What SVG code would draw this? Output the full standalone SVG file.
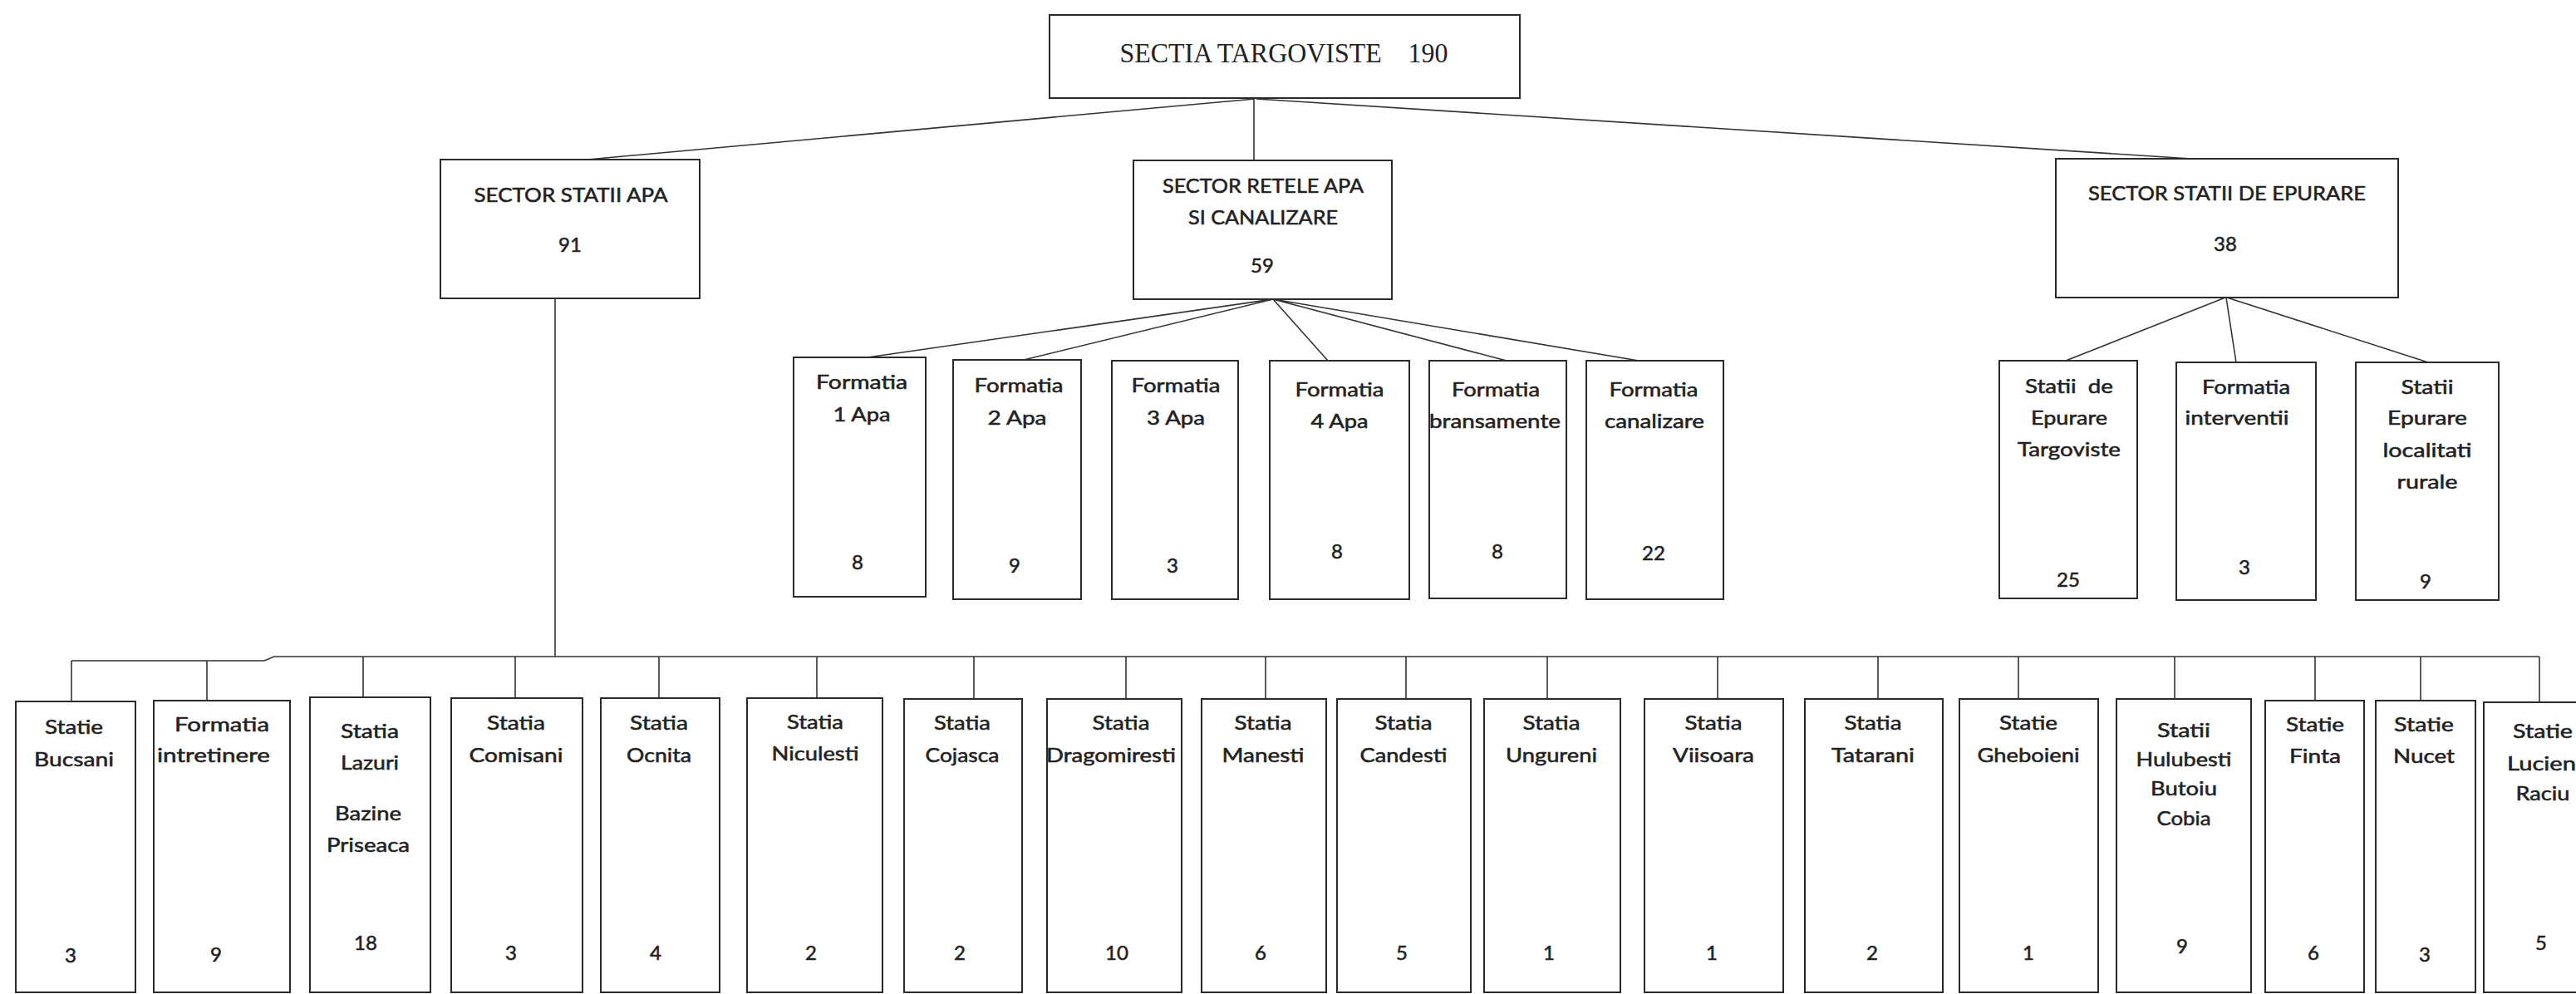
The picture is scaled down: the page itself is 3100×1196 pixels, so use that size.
<svg xmlns="http://www.w3.org/2000/svg" width="3100" height="1196" viewBox="0 0 3100 1196">
<style>
.box{fill:#fff;stroke:#2a2a2a;stroke-width:2}
.ln{stroke:#333;stroke-width:1.6;fill:none}
.t{font-family:Lato,"Open Sans","Liberation Sans",sans-serif;font-size:24px;fill:#222;stroke:#222;stroke-width:0.55;text-anchor:middle}
.s{font-family:"Liberation Serif","Times New Roman",serif;font-size:33px;fill:#222;text-anchor:middle}
</style>
<rect width="3100" height="1196" fill="#fff"/>
<g id="connectors">
<path class="ln" d="M1510,119 L707,192"/>
<path class="ln" d="M1509,119 L1509,193"/>
<path class="ln" d="M1512,119 L2637,191"/>
<path class="ln" d="M1532,360 L1044,430 M1532,360 L1232,433 M1532,360 L1598,434 M1532,360 L1813,434 M1532,360 L1972,434"/>
<path class="ln" d="M2678,358 L2486,434 M2679,358 L2691,436 M2680,358 L2922,436"/>
<path class="ln" d="M668,359 L668,790"/>
<path class="ln" d="M86,795 H318 L330,790 H3056"/>
<path class="ln" d="M86,795 V844 M249,795 V843 M437,790 V839 M620,790 V840 M793,790 V840 M983,790 V840 M1172,790 V841 M1355,790 V841 M1523,790 V841 M1692,790 V841 M1862,790 V841 M2067,790 V841 M2260,790 V841 M2429,790 V841 M2617,790 V841 M2786,790 V843 M2913,790 V843 M3056,790 V845"/>
</g>
<g id="n-root">
<rect class="box" x="1263" y="18" width="566" height="100"/>
<text class="s" x="1545" y="75" textLength="395" lengthAdjust="spacingAndGlyphs" xml:space="preserve">SECTIA TARGOVISTE    190</text>
</g>
<g id="n-ssa">
<rect class="box" x="530" y="192" width="312" height="167"/>
<text class="t" x="687" y="243" textLength="233" lengthAdjust="spacingAndGlyphs">SECTOR STATII APA</text>
<text class="t" x="686" y="303">91</text>
</g>
<g id="n-sra">
<rect class="box" x="1364" y="193" width="311" height="167"/>
<text class="t" x="1520" y="232" textLength="242" lengthAdjust="spacingAndGlyphs">SECTOR RETELE APA</text>
<text class="t" x="1520" y="270" textLength="180" lengthAdjust="spacingAndGlyphs">SI CANALIZARE</text>
<text class="t" x="1519" y="328">59</text>
</g>
<g id="n-sse">
<rect class="box" x="2474" y="191" width="412" height="167"/>
<text class="t" x="2680" y="241" textLength="334" lengthAdjust="spacingAndGlyphs">SECTOR STATII DE EPURARE</text>
<text class="t" x="2678" y="302">38</text>
</g>
<g id="n-f1">
<rect class="box" x="955" y="430" width="159" height="288"/>
<text class="t" x="1037" y="468" textLength="110" lengthAdjust="spacingAndGlyphs">Formatia</text>
<text class="t" x="1037" y="507" textLength="69" lengthAdjust="spacingAndGlyphs">1 Apa</text>
<text class="t" x="1032" y="685">8</text>
</g>
<g id="n-f2">
<rect class="box" x="1147" y="433" width="154" height="288"/>
<text class="t" x="1226" y="472" textLength="107" lengthAdjust="spacingAndGlyphs">Formatia</text>
<text class="t" x="1224" y="511" textLength="71" lengthAdjust="spacingAndGlyphs">2 Apa</text>
<text class="t" x="1221" y="689">9</text>
</g>
<g id="n-f3">
<rect class="box" x="1338" y="434" width="152" height="287"/>
<text class="t" x="1415" y="472" textLength="107" lengthAdjust="spacingAndGlyphs">Formatia</text>
<text class="t" x="1415" y="511" textLength="70" lengthAdjust="spacingAndGlyphs">3 Apa</text>
<text class="t" x="1411" y="689">3</text>
</g>
<g id="n-f4">
<rect class="box" x="1528" y="434" width="168" height="287"/>
<text class="t" x="1612" y="477" textLength="107" lengthAdjust="spacingAndGlyphs">Formatia</text>
<text class="t" x="1612" y="515" textLength="69" lengthAdjust="spacingAndGlyphs">4 Apa</text>
<text class="t" x="1609" y="672">8</text>
</g>
<g id="n-fbr">
<rect class="box" x="1720" y="434" width="165" height="286"/>
<text class="t" x="1800" y="477" textLength="106" lengthAdjust="spacingAndGlyphs">Formatia</text>
<text class="t" x="1799" y="515" textLength="158" lengthAdjust="spacingAndGlyphs">bransamente</text>
<text class="t" x="1802" y="672">8</text>
</g>
<g id="n-fcan">
<rect class="box" x="1909" y="434" width="165" height="287"/>
<text class="t" x="1990" y="477" textLength="107" lengthAdjust="spacingAndGlyphs">Formatia</text>
<text class="t" x="1991" y="515" textLength="120" lengthAdjust="spacingAndGlyphs">canalizare</text>
<text class="t" x="1990" y="674">22</text>
</g>
<g id="n-se1">
<rect class="box" x="2406" y="434" width="166" height="286"/>
<text class="t" x="2490" y="473" textLength="106" lengthAdjust="spacingAndGlyphs" xml:space="preserve">Statii  de</text>
<text class="t" x="2490" y="511" textLength="92" lengthAdjust="spacingAndGlyphs">Epurare</text>
<text class="t" x="2490" y="549" textLength="124" lengthAdjust="spacingAndGlyphs">Targoviste</text>
<text class="t" x="2489" y="706">25</text>
</g>
<g id="n-se2">
<rect class="box" x="2619" y="436" width="168" height="286"/>
<text class="t" x="2703" y="474" textLength="106" lengthAdjust="spacingAndGlyphs">Formatia</text>
<text class="t" x="2692" y="511" textLength="125" lengthAdjust="spacingAndGlyphs">interventii</text>
<text class="t" x="2701" y="691">3</text>
</g>
<g id="n-se3">
<rect class="box" x="2835" y="436" width="172" height="286"/>
<text class="t" x="2921" y="474" textLength="63" lengthAdjust="spacingAndGlyphs">Statii</text>
<text class="t" x="2921" y="511" textLength="96" lengthAdjust="spacingAndGlyphs">Epurare</text>
<text class="t" x="2921" y="550" textLength="107" lengthAdjust="spacingAndGlyphs">localitati</text>
<text class="t" x="2921" y="588" textLength="73" lengthAdjust="spacingAndGlyphs">rurale</text>
<text class="t" x="2919" y="708">9</text>
</g>
<g id="n-b1">
<rect class="box" x="19" y="844" width="144" height="350"/>
<text class="t" x="89" y="883" textLength="70" lengthAdjust="spacingAndGlyphs">Statie</text>
<text class="t" x="89" y="922" textLength="96" lengthAdjust="spacingAndGlyphs">Bucsani</text>
<text class="t" x="85" y="1158">3</text>
</g>
<g id="n-b2">
<rect class="box" x="185" y="843" width="164" height="351"/>
<text class="t" x="267" y="880" textLength="114" lengthAdjust="spacingAndGlyphs">Formatia</text>
<text class="t" x="257" y="917" textLength="136" lengthAdjust="spacingAndGlyphs">intretinere</text>
<text class="t" x="260" y="1157">9</text>
</g>
<g id="n-b3">
<rect class="box" x="373" y="839" width="145" height="355"/>
<text class="t" x="445" y="888" textLength="70" lengthAdjust="spacingAndGlyphs">Statia</text>
<text class="t" x="445" y="926" textLength="70" lengthAdjust="spacingAndGlyphs">Lazuri</text>
<text class="t" x="443" y="987" textLength="80" lengthAdjust="spacingAndGlyphs">Bazine</text>
<text class="t" x="443" y="1025" textLength="100" lengthAdjust="spacingAndGlyphs">Priseaca</text>
<text class="t" x="440" y="1143">18</text>
</g>
<g id="n-b4">
<rect class="box" x="543" y="840" width="158" height="354"/>
<text class="t" x="621" y="878" textLength="70" lengthAdjust="spacingAndGlyphs">Statia</text>
<text class="t" x="621" y="917" textLength="113" lengthAdjust="spacingAndGlyphs">Comisani</text>
<text class="t" x="615" y="1155">3</text>
</g>
<g id="n-b5">
<rect class="box" x="723" y="840" width="143" height="354"/>
<text class="t" x="793" y="878" textLength="70" lengthAdjust="spacingAndGlyphs">Statia</text>
<text class="t" x="793" y="917" textLength="78" lengthAdjust="spacingAndGlyphs">Ocnita</text>
<text class="t" x="789" y="1155">4</text>
</g>
<g id="n-b6">
<rect class="box" x="899" y="840" width="163" height="354"/>
<text class="t" x="981" y="877" textLength="68" lengthAdjust="spacingAndGlyphs">Statia</text>
<text class="t" x="981" y="915" textLength="105" lengthAdjust="spacingAndGlyphs">Niculesti</text>
<text class="t" x="976" y="1155">2</text>
</g>
<g id="n-b7">
<rect class="box" x="1088" y="841" width="142" height="353"/>
<text class="t" x="1158" y="878" textLength="68" lengthAdjust="spacingAndGlyphs">Statia</text>
<text class="t" x="1158" y="917" textLength="89" lengthAdjust="spacingAndGlyphs">Cojasca</text>
<text class="t" x="1155" y="1155">2</text>
</g>
<g id="n-b8">
<rect class="box" x="1260" y="841" width="162" height="353"/>
<text class="t" x="1349" y="878" textLength="69" lengthAdjust="spacingAndGlyphs">Statia</text>
<text class="t" x="1337" y="917" textLength="156" lengthAdjust="spacingAndGlyphs">Dragomiresti</text>
<text class="t" x="1344" y="1155">10</text>
</g>
<g id="n-b9">
<rect class="box" x="1446" y="841" width="150" height="353"/>
<text class="t" x="1520" y="878" textLength="69" lengthAdjust="spacingAndGlyphs">Statia</text>
<text class="t" x="1520" y="917" textLength="99" lengthAdjust="spacingAndGlyphs">Manesti</text>
<text class="t" x="1517" y="1155">6</text>
</g>
<g id="n-b10">
<rect class="box" x="1609" y="841" width="161" height="353"/>
<text class="t" x="1689" y="878" textLength="69" lengthAdjust="spacingAndGlyphs">Statia</text>
<text class="t" x="1689" y="917" textLength="105" lengthAdjust="spacingAndGlyphs">Candesti</text>
<text class="t" x="1687" y="1155">5</text>
</g>
<g id="n-b11">
<rect class="box" x="1786" y="841" width="164" height="353"/>
<text class="t" x="1867" y="878" textLength="69" lengthAdjust="spacingAndGlyphs">Statia</text>
<text class="t" x="1867" y="917" textLength="110" lengthAdjust="spacingAndGlyphs">Ungureni</text>
<text class="t" x="1864" y="1155">1</text>
</g>
<g id="n-b12">
<rect class="box" x="1979" y="841" width="167" height="353"/>
<text class="t" x="2062" y="878" textLength="69" lengthAdjust="spacingAndGlyphs">Statia</text>
<text class="t" x="2062" y="917" textLength="98" lengthAdjust="spacingAndGlyphs">Viisoara</text>
<text class="t" x="2060" y="1155">1</text>
</g>
<g id="n-b13">
<rect class="box" x="2172" y="841" width="166" height="353"/>
<text class="t" x="2254" y="878" textLength="69" lengthAdjust="spacingAndGlyphs">Statia</text>
<text class="t" x="2254" y="917" textLength="100" lengthAdjust="spacingAndGlyphs">Tatarani</text>
<text class="t" x="2253" y="1155">2</text>
</g>
<g id="n-b14">
<rect class="box" x="2358" y="841" width="167" height="353"/>
<text class="t" x="2441" y="878" textLength="70" lengthAdjust="spacingAndGlyphs">Statie</text>
<text class="t" x="2441" y="917" textLength="123" lengthAdjust="spacingAndGlyphs">Gheboieni</text>
<text class="t" x="2441" y="1155">1</text>
</g>
<g id="n-b15">
<rect class="box" x="2547" y="841" width="162" height="353"/>
<text class="t" x="2628" y="887" textLength="64" lengthAdjust="spacingAndGlyphs">Statii</text>
<text class="t" x="2628" y="922" textLength="115" lengthAdjust="spacingAndGlyphs">Hulubesti</text>
<text class="t" x="2628" y="957" textLength="80" lengthAdjust="spacingAndGlyphs">Butoiu</text>
<text class="t" x="2628" y="993" textLength="65" lengthAdjust="spacingAndGlyphs">Cobia</text>
<text class="t" x="2626" y="1147">9</text>
</g>
<g id="n-b16">
<rect class="box" x="2726" y="843" width="119" height="351"/>
<text class="t" x="2786" y="880" textLength="70" lengthAdjust="spacingAndGlyphs">Statie</text>
<text class="t" x="2786" y="918" textLength="62" lengthAdjust="spacingAndGlyphs">Finta</text>
<text class="t" x="2784" y="1155">6</text>
</g>
<g id="n-b17">
<rect class="box" x="2859" y="843" width="120" height="351"/>
<text class="t" x="2917" y="880" textLength="72" lengthAdjust="spacingAndGlyphs">Statie</text>
<text class="t" x="2917" y="918" textLength="74" lengthAdjust="spacingAndGlyphs">Nucet</text>
<text class="t" x="2918" y="1157">3</text>
</g>
<g id="n-b18">
<rect class="box" x="2989" y="845" width="130" height="349"/>
<text class="t" x="3060" y="888" textLength="72" lengthAdjust="spacingAndGlyphs">Statie</text>
<text class="t" x="3062" y="927" textLength="90" lengthAdjust="spacingAndGlyphs">Lucieni</text>
<text class="t" x="3060" y="963" textLength="65" lengthAdjust="spacingAndGlyphs">Raciu</text>
<text class="t" x="3058" y="1143">5</text>
</g>
</svg>
